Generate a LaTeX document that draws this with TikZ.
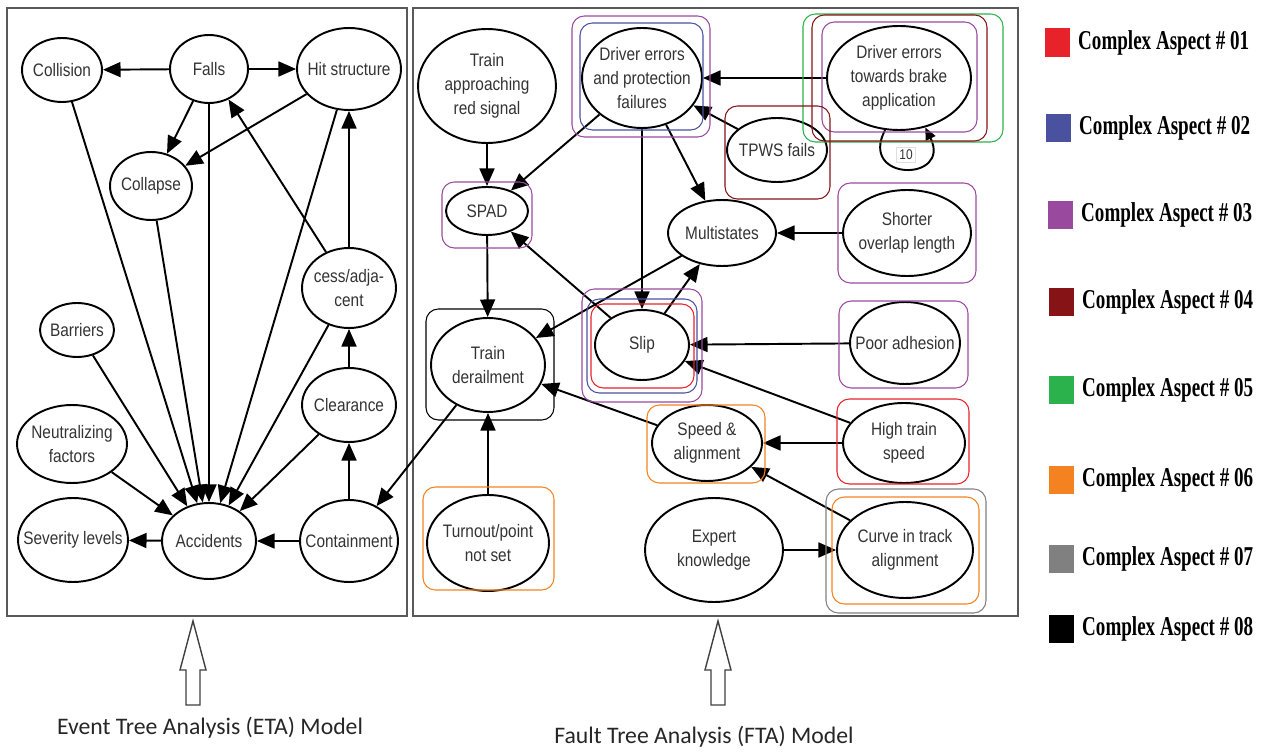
\documentclass[tikz,border=0pt]{standalone}
\usepackage{fontspec}
\usepackage{xcolor}
\usepackage{tikz}
\usetikzlibrary{arrows.meta, positioning, shapes.geometric}
\setmainfont{Liberation Sans}
\newfontfamily\evfont[FakeStretch=0.85]{Liberation Sans}
\newfontfamily\legfont[FakeStretch=0.7]{Liberation Serif}
\newfontfamily\capfont{Carlito}
\definecolor{aspred}{HTML}{E8222A}
\definecolor{aspblue}{HTML}{4A52A0}
\definecolor{asppurple}{HTML}{9A4A9E}
\definecolor{aspdark}{HTML}{861417}
\definecolor{aspgreen}{HTML}{2BB24C}
\definecolor{asporange}{HTML}{F58220}
\definecolor{aspgray}{HTML}{808080}
\tikzstyle{ev}=[ellipse,draw=black,line width=1.1pt,inner sep=0pt]
\tikzstyle{evtxt}=[font={\evfont\fontsize{10.3}{13.6}\selectfont},
  text=black!80,align=center,inner sep=0pt]
\tikzstyle{arr}=[-{Triangle[length=10pt,width=8.5pt]},line width=1.1pt]
\tikzstyle{hl}=[rounded corners=7pt,line width=0.6pt]
\tikzstyle{frame}=[draw=black!65,line width=1.3pt]
\tikzstyle{hollow}=[draw=black!75,line width=0.8pt,fill=white]
\tikzstyle{legsq}=[minimum width=0.5cm,minimum height=0.58cm,inner sep=0pt]
\tikzstyle{legtxt}=[font={\legfont\bfseries\fontsize{15.5}{18}\selectfont},
  inner sep=0pt,anchor=west]
\tikzstyle{captxt}=[font={\capfont\fontsize{13.5}{16}\selectfont},text=black!85]
\begin{document}
\begin{tikzpicture}[x=0.02cm,y=-0.02cm]
  \useasboundingbox (0,0) rectangle (1272,753);
  % frames
  \draw[frame] (7,8) rectangle (407,616);
  \draw[frame] (413,8) rectangle (1018,616);
  % ETA model
  \node[ev,minimum width=1.6cm,minimum height=1.28cm,label={[evtxt]center:Collision}] (coll) at (62,70) {};
  \node[ev,minimum width=1.56cm,minimum height=1.36cm,label={[evtxt]center:Falls}] (falls) at (209,69) {};
  \node[ev,minimum width=2.08cm,minimum height=1.64cm,label={[evtxt]center:Hit structure}] (hit) at (349,69) {};
  \node[ev,minimum width=1.64cm,minimum height=1.36cm,label={[evtxt]center:Collapse}] (collapse) at (151,186) {};
  \node[ev,minimum width=1.88cm,minimum height=1.6cm,label={[evtxt]center:{cess/adja-\\cent}}] (cess) at (349,288) {};
  \node[ev,minimum width=1.48cm,minimum height=1.08cm,label={[evtxt]center:Barriers}] (barr) at (77,330) {};
  \node[ev,minimum width=1.88cm,minimum height=1.48cm,label={[evtxt]center:Clearance}] (clear) at (349,405) {};
  \node[ev,minimum width=2.2cm,minimum height=1.56cm,label={[evtxt]center:{Neutralizing\\factors}}] (neut) at (72,444) {};
  \node[ev,minimum width=2.2cm,minimum height=1.68cm,label={[evtxt]center:Severity levels}] (sev) at (73,540) {};
  \node[ev,minimum width=1.88cm,minimum height=1.52cm,label={[evtxt]center:Accidents}] (acc) at (209,541) {};
  \node[ev,minimum width=1.96cm,minimum height=1.64cm,label={[evtxt]center:Containment}] (cont) at (349,541) {};
  \draw[arr] (falls) -- (coll);
  \draw[arr] (falls) -- (hit);
  \draw[arr] (falls) -- (collapse);
  \draw[arr] (hit) -- (collapse);
  \draw[arr] (cess) -- (falls);
  \draw[arr] (cess) -- (hit);
  \draw[arr] (clear) -- (cess);
  \draw[arr] (cont) -- (clear);
  \draw[arr] (cont) -- (acc);
  \draw[arr] (acc) -- (sev);
  \draw[arr] (coll) -- (acc);
  \draw[arr] (collapse) -- (acc);
  \draw[arr] (falls) -- (acc);
  \draw[arr] (hit) -- (acc);
  \draw[arr] (cess) -- (acc);
  \draw[arr] (clear) -- (acc);
  \draw[arr] (barr) -- (acc);
  \draw[arr] (neut) -- (acc);
  % FTA model
  \node[ev,minimum width=2.76cm,minimum height=2.28cm,label={[evtxt]center:{Train\\approaching\\red signal}}] (tars) at (487,86) {};
  \node[ev,minimum width=2.4cm,minimum height=2.0cm,label={[evtxt]center:{Driver errors\\and protection\\failures}}] (dep) at (642,78) {};
  \node[ev,minimum width=2.0cm,minimum height=1.28cm,label={[evtxt]center:TPWS fails}] (tpws) at (777,150) {};
  \node[ev,minimum width=2.88cm,minimum height=2.08cm,label={[evtxt]center:{Driver errors\\towards brake\\application}}] (dtb) at (899,78) {};
  \node[ev,minimum width=1.64cm,minimum height=0.96cm,label={[evtxt]center:SPAD}] (spad) at (487,211) {};
  \node[ev,minimum width=2.16cm,minimum height=1.32cm,label={[evtxt]center:Multistates}] (multi) at (722,233) {};
  \node[ev,minimum width=2.56cm,minimum height=1.72cm,label={[evtxt]center:{Shorter\\overlap length}}] (shorter) at (907,233) {};
  \node[ev,minimum width=2.2cm,minimum height=1.64cm,label={[evtxt]center:Poor adhesion}] (poor) at (905,343) {};
  \node[ev,minimum width=1.88cm,minimum height=1.4cm,label={[evtxt]center:Slip}] (slip) at (642,345) {};
  \node[ev,minimum width=2.28cm,minimum height=1.88cm,label={[evtxt]center:{Train\\derailment}}] (derail) at (488,365) {};
  \node[ev,minimum width=2.44cm,minimum height=1.6cm,label={[evtxt]center:{High train\\speed}}] (hts) at (904,443) {};
  \node[ev,minimum width=2.2cm,minimum height=1.52cm,label={[evtxt]center:{Speed \&\\alignment}}] (speed) at (707,443) {};
  \node[ev,minimum width=2.44cm,minimum height=1.92cm,label={[evtxt]center:{Turnout/point\\not set}}] (turn) at (488,543) {};
  \node[ev,minimum width=2.76cm,minimum height=2.08cm,label={[evtxt]center:{Expert\\knowledge}}] (expert) at (714,550) {};
  \node[ev,minimum width=2.72cm,minimum height=1.92cm,label={[evtxt]center:{Curve in track\\alignment}}] (curve) at (905,550) {};
  \node[font={\evfont\fontsize{8}{9}\selectfont},draw=black!12,line width=0.4pt,
    inner sep=1.5pt,text=black!80] (lp10) at (906,155) {10};
  \draw[arr] (tars) -- (spad);
  \draw[arr] (dep) -- (spad);
  \draw[arr] (dep) -- (multi);
  \draw[arr] (dep) -- (slip);
  \draw[arr] (dtb) -- (dep);
  \draw[arr] (tpws) -- (dep);
  \draw[-{Triangle[length=7pt,width=6pt]},line width=1.1pt] (dtb.255) .. controls (858,182) and (952,182) .. (dtb.298);
  \draw[arr] (shorter) -- (multi);
  \draw[arr] (spad) -- (derail);
  \draw[arr] (slip) -- (spad);
  \draw[arr] (slip) -- (multi);
  \draw[arr] (multi) -- (derail);
  \draw[arr] (poor) -- (slip);
  \draw[arr] (hts) -- (slip);
  \draw[arr] (hts) -- (speed);
  \draw[arr] (curve) -- (speed);
  \draw[arr] (expert) -- (curve);
  \draw[arr] (speed) -- (derail);
  \draw[arr] (turn) -- (derail);
  \draw[arr] (derail) -- (cont);
  % complex aspect outlines
  \draw[hl,asppurple] (572,16) rectangle (710,137);
  \draw[hl,aspblue] (580,23) rectangle (703,130);
  \draw[hl,aspgreen] (803,14) rectangle (1003,142);
  \draw[hl,aspdark] (812,15) rectangle (987,141);
  \draw[hl,asppurple] (822,22) rectangle (977,132);
  \draw[hl,aspdark] (725,106) rectangle (830,199);
  \draw[hl,asppurple] (442,182) rectangle (532,248);
  \draw[hl,asppurple] (838,183) rectangle (976,283);
  \draw[hl,asppurple] (839,301) rectangle (968,388);
  \draw[hl,aspred] (837,399) rectangle (969,484);
  \draw[hl,asporange] (832,497) rectangle (979,604);
  \draw[hl,aspgray] (826,489) rectangle (986,613);
  \draw[hl,aspred] (591,304) rectangle (694,388);
  \draw[hl,aspblue] (587,299) rectangle (697,393);
  \draw[hl,asppurple] (582,289) rectangle (702,402);
  \draw[hl,black] (426,309) rectangle (554,420);
  \draw[hl,asporange] (647,405) rectangle (765,483);
  \draw[hl,asporange] (423,487) rectangle (554,590);
  % model pointers
  \foreach \ax in {193,718}
    \draw[hollow] (\ax,621) -- (\ax+13,670) -- (\ax+7,670) -- (\ax+7,705)
      -- (\ax-7,705) -- (\ax-7,670) -- (\ax-13,670) -- cycle;
  \node[captxt] (etacap) at (210,728) {Event Tree Analysis (ETA) Model};
  \node[captxt] (ftacap) at (704,737) {Fault Tree Analysis (FTA) Model};
  % legend
  \foreach \c/\n/\lx/\ly in {aspred/01/1057/43, aspblue/02/1058/128, asppurple/03/1060/215,
      aspdark/04/1061/302, aspgreen/05/1061/390, asporange/06/1061/480,
      aspgray/07/1061/559, black/08/1061/629} {
    \node[legsq,fill=\c] (sq\n) at (\lx,\ly) {};
    \node[legtxt,right=0.16cm of sq\n] (lg\n) {Complex Aspect \# \n};
  }
\end{tikzpicture}
\end{document}
